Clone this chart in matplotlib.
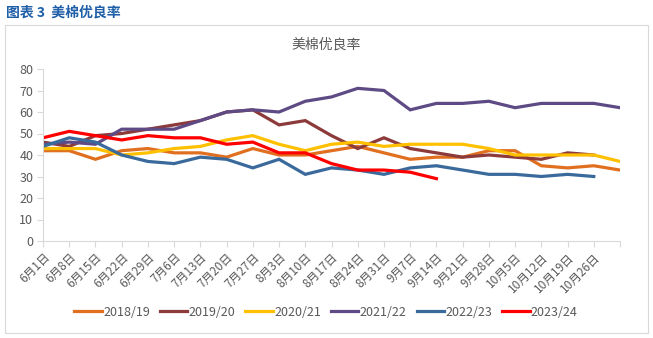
import matplotlib
matplotlib.use("Agg")
import matplotlib.pyplot as plt
from matplotlib.patches import Rectangle

plt.rcParams["font.family"] = ["Noto Sans CJK SC", "DejaVu Sans"]

# ---------------------------------------------------------------------------
# Data
# ---------------------------------------------------------------------------
dates = ["6月1日", "6月8日", "6月15日", "6月22日", "6月29日", "7月6日", "7月13日",
         "7月20日", "7月27日", "8月3日", "8月10日", "8月17日", "8月24日", "8月31日",
         "9月7日", "9月14日", "9月21日", "9月28日", "10月5日", "10月12日",
         "10月19日", "10月26日", ""]

s_2018 = [42, 42, 38, 42, 43, 41, 41, 39, 43, 40, 40, 42, 44, 41, 38, 39, 39, 42,
          42, 35, 34, 35, 33]
s_2019 = [46, 44, 49, 50, 52, 54, 56, 60, 61, 54, 56, 49, 43, 48, 43, 41, 39, 40,
          39, 38, 41, 40]
s_2020 = [43, 43, 43, 40, 41, 43, 44, 47, 49, 45, 42, 45, 46, 44, 45, 45, 45, 43,
          40, 40, 40, 40, 37]
s_2021 = [45, 46, 45, 52, 52, 52, 56, 60, 61, 60, 65, 67, 71, 70, 61, 64, 64, 65,
          62, 64, 64, 64, 62]
s_2022 = [44, 48, 46, 40, 37, 36, 39, 38, 34, 38, 31, 34, 33, 31, 34, 35, 33, 31,
          31, 30, 31, 30]
s_2023 = [48, 51, 49, 47, 49, 48, 48, 45, 46, 41, 41, 36, 33, 33, 32, 29]

series = [
    ("2018/19", s_2018, "#E07020"),
    ("2019/20", s_2019, "#8C3A3A"),
    ("2020/21", s_2020, "#FFC000"),
    ("2021/22", s_2021, "#5E4A84"),
    ("2022/23", s_2022, "#3A6A9C"),
    ("2023/24", s_2023, "#FF0000"),
]

# ---------------------------------------------------------------------------
# Figure
# ---------------------------------------------------------------------------
fig = plt.figure(figsize=(6.53, 3.38), dpi=100)
W, H = 653, 338

# outer heading
fig.text(6 / W, 1 - 12 / H, "图表 3  美棉优良率", color="#1F5FA8", fontsize=10,
         fontweight="bold", ha="left", va="center")

# chart frame
fig.patches.append(Rectangle((5 / W, 5 / H), 643 / W, 308 / H,
                             transform=fig.transFigure, fill=False,
                             ec="#D9D9D9", lw=0.8))

ax = fig.add_axes([43 / W, 1 - 241 / H, 577 / W, 172 / H])

x = list(range(len(dates)))
for label, vals, color in series:
    ax.plot(x[:len(vals)], vals, color=color, lw=2.3, label=label,
            solid_joinstyle="miter")

ax.set_xlim(0, len(dates) - 1)
ax.set_ylim(0, 80)
ax.set_yticks(range(0, 81, 10))
ax.set_xticks(x)
ax.set_xticklabels(dates, rotation=45, ha="right", rotation_mode="anchor",
                   fontsize=8.5, color="#595959")
for lab in ax.get_yticklabels():
    lab.set_fontsize(9)
    lab.set_color("#595959")

for side in ["top", "right"]:
    ax.spines[side].set_visible(False)
for side in ["left", "bottom"]:
    ax.spines[side].set_color("#D9D9D9")
    ax.spines[side].set_linewidth(0.8)
ax.tick_params(axis="both", color="#D9D9D9", length=4, width=0.8)
ax.tick_params(axis="y", pad=3)
ax.tick_params(axis="x", pad=3)

fig.text(0.5, 1 - 45 / H, "美棉优良率", ha="center", va="center",
         fontsize=10, color="#595959")

fig.legend(loc="center", bbox_to_anchor=(326 / W, 1 - 312 / H), ncol=6,
           frameon=False, fontsize=9, handlelength=2.2, handletextpad=0.1,
           columnspacing=0.8, labelcolor="#595959")

fig.savefig("out.png", dpi=100)
